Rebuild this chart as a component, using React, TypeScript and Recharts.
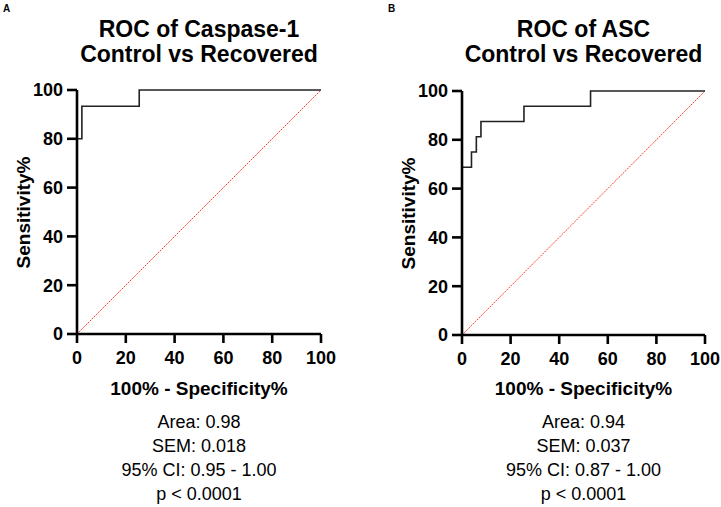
import React from 'react';
import { LineChart, Line, XAxis, YAxis } from 'recharts';

// ROC corner points: x = 100% - Specificity%, y = Sensitivity%
const caspaseFpr = [0, 0, 2.0, 25.5, 100];
const caspaseSens = [0, 80, 93.33, 100, 100];

const ascFpr = [0, 0, 3.9, 5.9, 7.8, 25.5, 52.9, 100];
const ascSens = [0, 68.75, 75, 81.25, 87.5, 93.75, 100, 100];

const diagonalX = [0, 100];
const diagonalY = [0, 100];

const axisTicks = [0, 20, 40, 60, 80, 100];

const caspaseStats = ['Area: 0.98', 'SEM: 0.018', '95% CI: 0.95 - 1.00', 'p < 0.0001'];
const ascStats = ['Area: 0.94', 'SEM: 0.037', '95% CI: 0.87 - 1.00', 'p < 0.0001'];

const toPoints = (xs: number[], ys: number[]) => xs.map((x, i) => ({ x, y: ys[i] }));

const FONT = '"Liberation Sans", Arial, Helvetica, sans-serif';

interface PanelProps {
  letter: string;
  letterX: number;
  titleLines: string[];
  points: { x: number; y: number }[];
  stats: string[];
  left: number; // absolute x of chart box
  width: number;
  margin: { top: number; right: number; bottom: number; left: number };
}

const Y_AXIS_W = 45;
const CHART_H = 400;

const RocPanel: React.FC<PanelProps> = ({ letter, letterX, titleLines, points, stats, left, width, margin }) => {
  const plotLeft = left + margin.left + Y_AXIS_W;
  const plotRight = left + width - margin.right;
  const plotTop = margin.top;
  const plotBottom = CHART_H - margin.bottom - 30;
  const cx = (plotLeft + plotRight) / 2;
  const cy = (plotTop + plotBottom) / 2;
  const axisStyle = { stroke: '#000', strokeWidth: 2.6 };
  const tickStyle = { fill: '#000', fontSize: 18, fontWeight: 700, fontFamily: FONT };

  return (
    <>
      <div style={{ position: 'absolute', left: letterX, top: 3, fontSize: 10, fontWeight: 700 }}>{letter}</div>
      <div style={{ position: 'absolute', left: cx - 170, width: 340, top: 16.5, textAlign: 'center', fontSize: 23, lineHeight: '25px', fontWeight: 700 }}>
        {titleLines.map((t) => <div key={t}>{t}</div>)}
      </div>
      <div style={{ position: 'absolute', left }}>
        <LineChart width={width} height={CHART_H} margin={margin}>
          <XAxis
            type="number"
            dataKey="x"
            domain={[0, 100]}
            ticks={axisTicks}
            axisLine={axisStyle}
            tickLine={axisStyle}
            tickSize={9}
            tickMargin={8}
            tick={tickStyle}
            height={30}
            allowDuplicatedCategory={false}
          />
          <YAxis
            type="number"
            dataKey="y"
            domain={[0, 100]}
            ticks={axisTicks}
            axisLine={axisStyle}
            tickLine={axisStyle}
            tickSize={10}
            tickMargin={4}
            tick={tickStyle}
            width={Y_AXIS_W}
          />
          <Line
            data={toPoints(diagonalX, diagonalY)}
            dataKey="y"
            type="linear"
            stroke="#ff3b30"
            strokeWidth={1}
            strokeDasharray="2 1"
            dot={false}
            isAnimationActive={false}
          />
          <Line
            data={points}
            dataKey="y"
            type="stepAfter"
            stroke="#222"
            strokeWidth={1.6}
            dot={false}
            isAnimationActive={false}
          />
        </LineChart>
      </div>
      <div
        style={{
          position: 'absolute',
          left: plotLeft - 54 - 100,
          top: cy - 9.5,
          width: 200,
          textAlign: 'center',
          fontSize: 19,
          lineHeight: '19px',
          fontWeight: 700,
          transform: 'rotate(-90deg)',
        }}
      >
        Sensitivity%
      </div>
      <div style={{ position: 'absolute', left: cx - 150, width: 300, top: 379, textAlign: 'center', fontSize: 19, lineHeight: '19px', fontWeight: 700 }}>
        100% - Specificity%
      </div>
      <div style={{ position: 'absolute', left: cx - 150, width: 300, top: 410, textAlign: 'center', fontSize: 18, lineHeight: '24px' }}>
        {stats.map((s) => <div key={s}>{s}</div>)}
      </div>
    </>
  );
};

const App: React.FC = () => (
  <div style={{ position: 'absolute', left: 0, top: 0, width: 721, height: 507, background: '#fff', fontFamily: FONT, color: '#000', overflow: 'hidden' }}>
    <RocPanel
      letter="A"
      letterX={3}
      titleLines={['ROC of Caspase-1', 'Control vs Recovered']}
      points={toPoints(caspaseFpr, caspaseSens)}
      stats={caspaseStats}
      left={0}
      width={360}
      margin={{ top: 90, right: 39, bottom: 36, left: 32 }}
    />
    <RocPanel
      letter="B"
      letterX={388}
      titleLines={['ROC of ASC', 'Control vs Recovered']}
      points={toPoints(ascFpr, ascSens)}
      stats={ascStats}
      left={370}
      width={351}
      margin={{ top: 91, right: 16, bottom: 35, left: 47 }}
    />
  </div>
);

export default App;
